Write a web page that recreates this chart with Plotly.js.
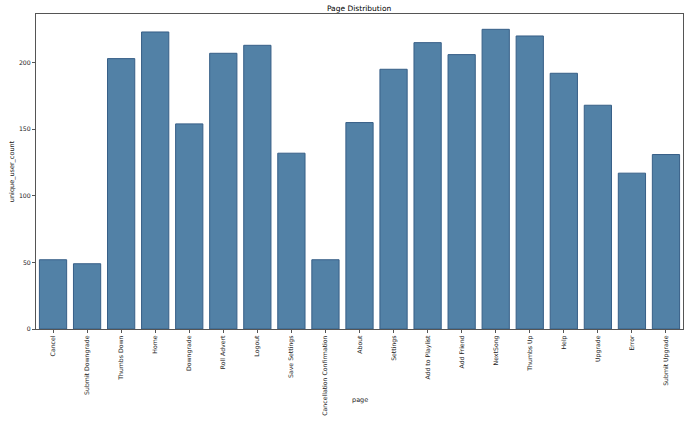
<!DOCTYPE html>
<html>
<head>
<meta charset="utf-8">
<script src="https://cdn.plot.ly/plotly-3.0.1.min.js"></script>
<style>html,body{margin:0;padding:0;background:#fff;}#chart{width:700px;height:421px;}</style>
</head>
<body>
<div id="chart"></div>
<script>
const pages = ["Cancel","Submit Downgrade","Thumbs Down","Home","Downgrade","Roll Advert","Logout","Save Settings","Cancellation Confirmation","About","Settings","Add to Playlist","Add Friend","NextSong","Thumbs Up","Help","Upgrade","Error","Submit Upgrade"];
const userCounts = [52,49,203,223,154,207,213,132,52,155,195,215,206,225,220,192,168,117,131];
const yTicks = [0,50,100,150,200];

const trace = {
  type: 'bar',
  x: pages,
  y: userCounts,
  width: 0.8,
  marker: {color: 'rgb(82,129,166)', line: {color: 'rgb(55,95,135)', width: 1}},
  hoverinfo: 'x+y'
};

const layout = {
  width: 700, height: 421,
  margin: {l: 36, r: 17, t: 14, b: 92, pad: 0},
  paper_bgcolor: '#fff', plot_bgcolor: '#fff',
  font: {family: 'DejaVu Sans', size: 6.2, color: '#222'},
  title: {text: 'Page Distribution', font: {size: 7.5, color: '#000'}, x: 0.513, xanchor: 'center', y: 0.986, yanchor: 'top'},
  showlegend: false,
  bargap: 0.2,
  xaxis: {
    type: 'category', range: [-0.5, 18.5], tickangle: -90,
    showline: true, linecolor: '#555', linewidth: 1, mirror: true,
    ticks: 'outside', ticklen: 3, tickcolor: '#555', showgrid: false,
    tickfont: {size: 6.2, color: '#222'}
  },
  yaxis: {
    range: [0, 236.5], tickvals: yTicks, ticktext: yTicks.map(String),
    showline: true, linecolor: '#555', linewidth: 1, mirror: true,
    ticks: 'outside', ticklen: 3, tickcolor: '#555', showgrid: false, zeroline: false,
    tickfont: {size: 6.2, color: '#222'},
    title: {text: 'unique_user_count', font: {size: 6.5, color: '#222'}, standoff: 3}
  },
  annotations: [{
    text: 'page', xref: 'paper', yref: 'paper', x: 0.5, y: -0.224,
    xanchor: 'center', yanchor: 'middle', showarrow: false,
    font: {size: 6.5, color: '#222'}
  }]
};

Plotly.newPlot('chart', [trace], layout, {displayModeBar: false, staticPlot: true});
</script>
</body>
</html>
